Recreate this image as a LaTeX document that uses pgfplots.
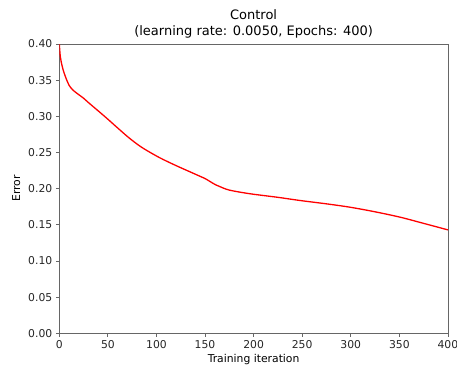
\documentclass[border=0pt]{standalone}
\usepackage{pgfplots}
\pgfplotsset{compat=1.18}
\usepackage{fontspec}
\setmainfont{DejaVu Sans}
\begin{document}
\begin{tikzpicture}
\begin{axis}[
  scale only axis,
  width=388.6pt, height=289.3pt,
  xmin=0, xmax=400, ymin=0, ymax=0.40,
  xtick={0,50,...,400},
  ytick={0,0.05,...,0.40},
  /pgf/number format/assume math mode=true,
  yticklabel style={/pgf/number format/fixed,/pgf/number format/fixed zerofill,/pgf/number format/precision=2},
  scaled y ticks=false,
  ticklabel style={font=\fontsize{10.8}{13}\selectfont, text=black!85},
  tick align=outside,
  tick pos=left,
  major tick length=3.5pt,
  tick style={black!60, line width=0.8pt},
  axis line style={black!60, line width=0.8pt},
  xlabel={Training iteration},
  ylabel={Error},
  label style={font=\fontsize{10.8}{13}\selectfont},
  xlabel style={yshift=1pt},
  ylabel style={yshift=1pt},
  title={Control\\(learning rate: 0.0050, Epochs: 400)},
  title style={align=center, font=\fontsize{13}{16}\selectfont, yshift=-4pt},
]
\addplot[red, line width=1.3pt, smooth, tension=0.5] coordinates {
(0,0.400) (1,0.383) (2,0.375) (4,0.364) (6,0.356) (8,0.349) (10,0.343) (13.5,0.337) (17,0.333) (20,0.330)
(25,0.325) (30,0.319) (37,0.311) (44,0.303) (50,0.296) (60,0.284) (72,0.270) (85,0.257)
(103,0.243) (120,0.232) (135,0.223) (145,0.217) (150,0.214) (155,0.210) (160,0.206) (165,0.203)
(175,0.198) (196,0.193) (225,0.188) (248,0.1836) (275,0.179) (299,0.1744) (325,0.168)
(351,0.1605) (375,0.152) (400,0.143)
};
\end{axis}
\pgfresetboundingbox
\path[use as bounding box] ([shift={(-59.3pt,-36.7pt)}]current axis.south west) rectangle ++(457pt,370pt);
\end{tikzpicture}
\end{document}
